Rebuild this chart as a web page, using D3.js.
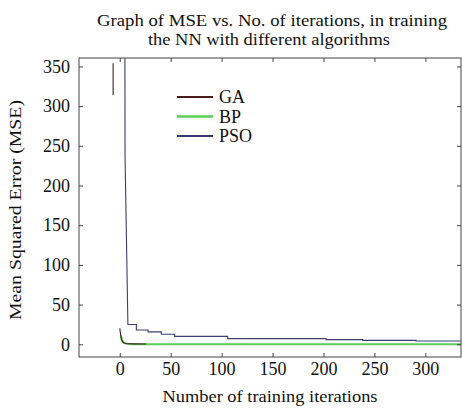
<!DOCTYPE html>
<html>
<head>
<meta charset="utf-8">
<script src="https://cdn.jsdelivr.net/npm/d3@7"></script>
<style>
  body { margin: 0; background: #fff; }
  text { font-family: "Liberation Serif", "Times New Roman", serif; fill: #111; }
</style>
</head>
<body>
<div id="viz"></div>
<script>
// MSE per training iteration for each algorithm

const xTicks = [0, 50, 100, 150, 200, 250, 300];
const yTicks = [0, 50, 100, 150, 200, 250, 300, 350];

// GA: one stray short segment, then the real curve (null = gap)
const gaIter = [-6.5, -6.5, null, 0, 1, 2, 3, 4, 6, 9, 14, 26];
const gaMse  = [354, 314, null, 20, 11, 5, 3, 1.8, 1, 0.6, 0.5, 0.4];

const bpIter = [1, 2, 3, 4, 6, 8, 12, 20, 335];
const bpMse  = [11, 6, 3.5, 2, 1, 0.5, 0.2, 0.05, 0.05];

const psoIter = [4.5, 5.2, 8, 16.3, 16.3, 27.8, 27.8, 40.8, 40.8, 53.9, 53.9, 106, 106, 202.6, 202.6, 238.5, 238.5, 290.8, 290.8, 335];
const psoMse  = [900, 237, 25, 25, 18, 18, 15.6, 15.6, 12.7, 12.7, 10, 10, 7.2, 7.2, 5.9, 5.9, 5, 5, 4.2, 4.2];

const seriesNames = ['GA', 'BP', 'PSO'];
const seriesColors = ['#4a1c1c', '#5ccc5c', '#3c3c70'];

function drawChart() {
    const dimensions = {
        width: 462,
        height: 411,
        margins: { left: 79, right: 1, top: 58, bottom: 54 }
    };
    dimensions.boundedWidth = dimensions.width - dimensions.margins.left - dimensions.margins.right;
    dimensions.boundedHeight = dimensions.height - dimensions.margins.top - dimensions.margins.bottom;

    const svg = d3.select('#viz').append('svg')
        .attr('width', dimensions.width)
        .attr('height', dimensions.height);

    const bounds = svg.append('g')
        .attr('transform', `translate(${dimensions.margins.left}, ${dimensions.margins.top})`);

    const x = d3.scaleLinear().domain([-40, 335]).range([0, dimensions.boundedWidth]);
    const y = d3.scaleLinear().domain([-16, 360.6]).range([dimensions.boundedHeight, 0]);

    svg.append('defs').append('clipPath').attr('id', 'clip')
        .append('rect')
        .attr('width', dimensions.boundedWidth)
        .attr('height', dimensions.boundedHeight);

    // lines
    const toPoints = (xs, ys) => xs.map((d, i) => ({ x: d, y: ys[i] }));
    const line = d3.line()
        .defined(d => d.x != null)
        .x(d => x(d.x))
        .y(d => y(d.y));

    const plot = bounds.append('g').attr('clip-path', 'url(#clip)');

    plot.append('path')
        .datum(toPoints(bpIter, bpMse))
        .attr('fill', 'none')
        .attr('stroke', seriesColors[1])
        .attr('stroke-width', 2.2)
        .attr('d', line);

    plot.append('path')
        .datum(toPoints(psoIter, psoMse))
        .attr('fill', 'none')
        .attr('stroke', seriesColors[2])
        .attr('stroke-width', 1.1)
        .attr('d', line);

    plot.append('path')
        .datum(toPoints(gaIter, gaMse))
        .attr('fill', 'none')
        .attr('stroke', seriesColors[0])
        .attr('stroke-width', 1.1)
        .attr('d', line);

    // axes, ticks inside on all four sides
    const axisColor = '#444';
    const styleAxis = g => {
        g.select('.domain').remove();
        g.selectAll('line').attr('stroke', axisColor);
        g.selectAll('text').style('font-size', '18px').attr('fill', '#111');
    };

    bounds.append('g')
        .attr('transform', `translate(0, ${dimensions.boundedHeight})`)
        .call(d3.axisBottom(x).tickValues(xTicks).tickSizeInner(-4).tickSizeOuter(0).tickPadding(5))
        .call(styleAxis);

    bounds.append('g')
        .call(d3.axisTop(x).tickValues(xTicks).tickSizeInner(-4).tickSizeOuter(0).tickFormat(''))
        .call(styleAxis);

    bounds.append('g')
        .call(d3.axisLeft(y).tickValues(yTicks).tickSizeInner(-4).tickSizeOuter(0).tickPadding(9))
        .call(styleAxis);

    bounds.append('g')
        .attr('transform', `translate(${dimensions.boundedWidth}, 0)`)
        .call(d3.axisRight(y).tickValues(yTicks).tickSizeInner(-4).tickSizeOuter(0).tickFormat(''))
        .call(styleAxis);

    bounds.append('rect')
        .attr('width', dimensions.boundedWidth)
        .attr('height', dimensions.boundedHeight)
        .attr('fill', 'none')
        .attr('stroke', axisColor)
        .attr('stroke-width', 1);

    // title
    const title = svg.append('text')
        .attr('text-anchor', 'middle')
        .style('font-size', '17px');
    title.append('tspan').attr('x', 272).attr('y', 26)
        .attr('textLength', 350).attr('lengthAdjust', 'spacingAndGlyphs')
        .text('Graph of MSE vs. No. of iterations, in training');
    title.append('tspan').attr('x', 269).attr('y', 45)
        .attr('textLength', 242).attr('lengthAdjust', 'spacingAndGlyphs')
        .text('the NN with different algorithms');

    // axis labels
    svg.append('text')
        .attr('x', 270)
        .attr('y', 402)
        .attr('text-anchor', 'middle')
        .attr('textLength', 215).attr('lengthAdjust', 'spacingAndGlyphs')
        .style('font-size', '17px')
        .text('Number of training iterations');

    svg.append('text')
        .attr('transform', 'translate(21, 210) rotate(-90)')
        .attr('text-anchor', 'middle')
        .attr('textLength', 220).attr('lengthAdjust', 'spacingAndGlyphs')
        .style('font-size', '17px')
        .text('Mean Squared Error (MSE)');

    // legend
    const legend = svg.append('g').attr('transform', 'translate(177, 97)');
    const item = legend.selectAll('g')
        .data(seriesNames)
        .enter().append('g')
            .attr('transform', (d, i) => `translate(0, ${i * 19.5})`);
    item.append('line')
        .attr('x1', 0).attr('x2', 36)
        .attr('stroke', (d, i) => seriesColors[i])
        .attr('stroke-width', (d, i) => i === 1 ? 2.6 : 2);
    item.append('text')
        .attr('x', 42)
        .attr('y', 6)
        .style('font-size', '18px')
        .text(d => d);
}

drawChart();
</script>
</body>
</html>
